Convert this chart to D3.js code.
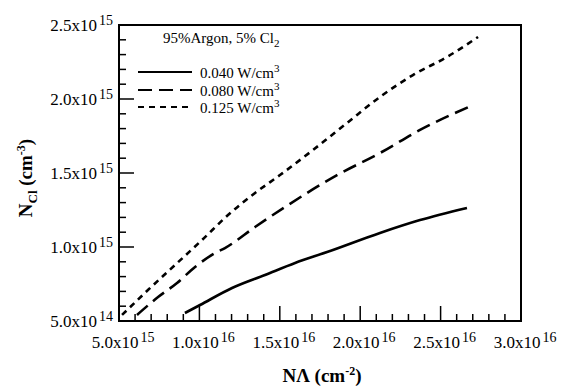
<!DOCTYPE html>
<html>
<head>
<meta charset="utf-8">
<script src="https://cdn.jsdelivr.net/npm/d3@7"></script>
<style>
  body { margin: 0; background: #fff; }
  text { font-family: "Liberation Serif", "Times New Roman", serif; fill: #000; }
</style>
</head>
<body>
<div id="chart"></div>
<script>
// values, x in cm^-2, y in cm^-3
const series040 = [
  [9.10e15, 5.54e14], [1.004e16, 6.08e14], [1.203e16, 7.23e14], [1.408e16, 8.11e14],
  [1.595e16, 8.92e14], [1.794e16, 9.66e14], [2.123e16, 1.095e15], [2.372e16, 1.182e15],
  [2.664e16, 1.264e15]
];
const series080 = [
  [6.12e15, 5.41e14], [7.43e15, 6.62e14], [8.61e15, 7.57e14], [9.73e15, 8.65e14],
  [1.097e16, 9.59e14], [1.159e16, 9.93e14], [1.346e16, 1.135e15], [1.532e16, 1.270e15],
  [1.856e16, 1.486e15], [2.123e16, 1.635e15], [2.372e16, 1.791e15], [2.701e16, 1.959e15]
];
const series125 = [
  [5.19e15, 5.41e14], [6.80e15, 7.09e14], [8.48e15, 8.78e14], [1.016e16, 1.047e15],
  [1.178e16, 1.216e15], [1.346e16, 1.365e15], [1.501e16, 1.486e15], [1.706e16, 1.655e15],
  [1.918e16, 1.838e15], [2.123e16, 2.014e15], [2.328e16, 2.162e15], [2.540e16, 2.284e15],
  [2.733e16, 2.419e15]
];
const seriesNames = ["0.040", "0.080", "0.125"];
const xTicks = [5e15, 1e16, 1.5e16, 2e16, 2.5e16, 3e16];
const xTickText = [["5.0", "15"], ["1.0", "16"], ["1.5", "16"], ["2.0", "16"], ["2.5", "16"], ["3.0", "16"]];
const yTicks = [5e14, 1e15, 1.5e15, 2e15, 2.5e15];
const yTickText = [["5.0", "14"], ["1.0", "15"], ["1.5", "15"], ["2.0", "15"], ["2.5", "15"]];

var W = 572, H = 387;
var margin = {top: 25, right: 51, bottom: 66, left: 119};
var width = W - margin.left - margin.right;
var height = H - margin.top - margin.bottom;

var svg = d3.select("#chart").append("svg")
            .attr("width", W).attr("height", H);
var g = svg.append("g").attr("transform", `translate(${margin.left},${margin.top})`);

var x = d3.scaleLinear().domain([5e15, 3e16]).range([0, width]);
var y = d3.scaleLinear().domain([5e14, 2.5e15]).range([height, 0]);

// inward ticks: minor every 1e15 / 1e14, major at the labels
var xMinor = d3.range(0, 26).map(i => 5e15 + i * 1e15);
var yMinor = d3.range(0, 21).map(i => 5e14 + i * 1e14);
function isMajor(v, list) { return list.some(t => Math.abs(t - v) < 1e12); }

g.selectAll(".xtick").data(xMinor).enter().append("line")
 .attr("class", "xtick")
 .attr("x1", d => x(d)).attr("x2", d => x(d))
 .attr("y1", height).attr("y2", d => height - (isMajor(d, xTicks) ? 15 : 7))
 .attr("stroke", "#000").attr("stroke-width", 1.5);

g.selectAll(".ytick").data(yMinor).enter().append("line")
 .attr("class", "ytick")
 .attr("y1", d => y(d)).attr("y2", d => y(d))
 .attr("x1", 0).attr("x2", d => isMajor(d, yTicks) ? 15 : 7)
 .attr("stroke", "#000").attr("stroke-width", 1.5);

// frame
g.append("rect")
 .attr("width", width).attr("height", height)
 .attr("fill", "none").attr("stroke", "#000").attr("stroke-width", 2);

// tick labels with superscripts
var xl = g.selectAll(".xl").data(xTicks).enter().append("text")
  .attr("x", d => x(d) + 4).attr("y", height + 27)
  .attr("text-anchor", "middle").style("font-size", "17px");
xl.append("tspan").text((d, i) => xTickText[i][0] + "x10");
xl.append("tspan").attr("dx", 2).attr("dy", -6).style("font-size", "14px").text((d, i) => xTickText[i][1]);

var yl = g.selectAll(".yl").data(yTicks).enter().append("text")
  .attr("x", -6).attr("y", d => y(d) + 6)
  .attr("text-anchor", "end").style("font-size", "17px");
yl.append("tspan").text((d, i) => yTickText[i][0] + "x10");
yl.append("tspan").attr("dx", 2).attr("dy", -6).style("font-size", "14px").text((d, i) => yTickText[i][1]);

// axis titles
var xt = svg.append("text").attr("x", 322).attr("y", 382)
  .attr("text-anchor", "middle").style("font-size", "19px").style("font-weight", "bold");
xt.append("tspan").text("N\u039B (cm");
xt.append("tspan").attr("dy", -7).style("font-size", "12px").text("-2");
xt.append("tspan").attr("dy", 7).text(")");

var yt = svg.append("text").attr("transform", "translate(32,178) rotate(-90)")
  .attr("text-anchor", "middle").style("font-size", "19px").style("font-weight", "bold");
yt.append("tspan").text("N");
yt.append("tspan").attr("dy", 5).style("font-size", "13px").text("Cl");
yt.append("tspan").attr("dy", -5).text(" (cm");
yt.append("tspan").attr("dy", -7).style("font-size", "12px").text("-3");
yt.append("tspan").attr("dy", 7).text(")");

// curves
var dashes = [null, "14,7", "6,5"];
var line = d3.line().x(d => x(d[0])).y(d => y(d[1])).curve(d3.curveMonotoneX);
[series040, series080, series125].forEach(function(s, i) {
  g.append("path").datum(s)
   .attr("d", line)
   .attr("fill", "none").attr("stroke", "#000").attr("stroke-width", 2.6)
   .attr("stroke-dasharray", dashes[i]);
});

// legend
var hdr = svg.append("text").attr("x", 163).attr("y", 43).style("font-size", "15px");
hdr.append("tspan").text("95%Argon, 5% Cl");
hdr.append("tspan").attr("dy", 4).style("font-size", "11px").text("2");

var legY = [72, 90, 107];
seriesNames.forEach(function(nm, i) {
  svg.append("line")
     .attr("x1", 138).attr("x2", 192).attr("y1", legY[i]).attr("y2", legY[i])
     .attr("stroke", "#000").attr("stroke-width", 2).attr("stroke-dasharray", dashes[i]);
  var t = svg.append("text").attr("x", 200).attr("y", legY[i] + 6).style("font-size", "15px");
  t.append("tspan").text(nm + " W/cm");
  t.append("tspan").attr("dy", -6).style("font-size", "11px").text("3");
});
</script>
</body>
</html>
